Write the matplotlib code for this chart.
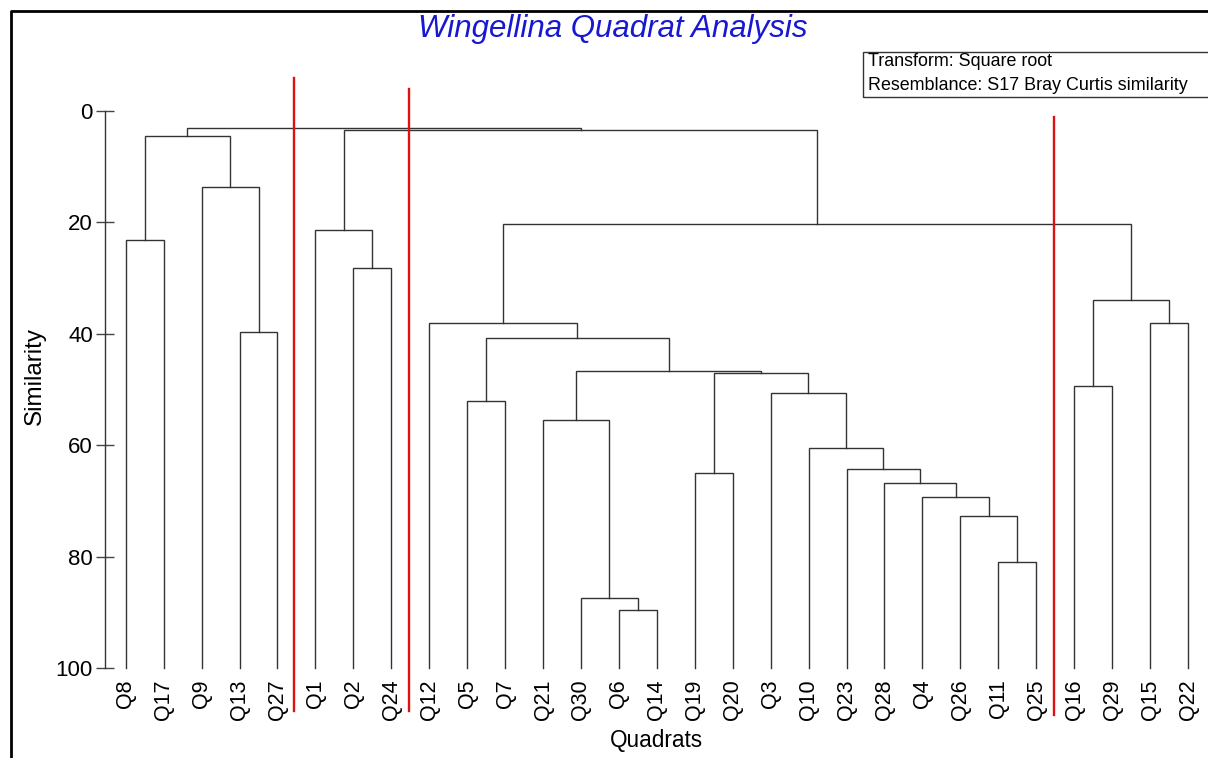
import matplotlib
matplotlib.use("Agg")
import matplotlib.pyplot as plt
from matplotlib.lines import Line2D
from matplotlib.patches import Rectangle

plt.rcParams['font.family'] = ['Liberation Sans', 'DejaVu Sans']

# ---- data ----
leaf_labels = ['Q8', 'Q17', 'Q9', 'Q13', 'Q27', 'Q1', 'Q2', 'Q24', 'Q12', 'Q5',
               'Q7', 'Q21', 'Q30', 'Q6', 'Q14', 'Q19', 'Q20', 'Q3', 'Q10', 'Q23',
               'Q28', 'Q4', 'Q26', 'Q11', 'Q25', 'Q16', 'Q29', 'Q15', 'Q22']

node_names = ['n1', 'n2', 'n3', 'n4', 'n5', 'n6', 'n7', 'n8', 'n9', 'n10',
              'n11', 'n12', 'n13', 'n14', 'n15', 'n16', 'n17', 'n18', 'n19', 'n20',
              'n21', 'n22', 'n23', 'n24', 'n25', 'n26', 'n27', 'n28']
node_left = ['Q8', 'Q13', 'Q9', 'n1', 'Q2', 'Q1', 'Q6', 'Q30', 'Q21', 'Q19',
             'Q11', 'Q26', 'Q4', 'Q28', 'Q23', 'Q10', 'Q3', 'n10', 'n9', 'Q5',
             'n20', 'Q12', 'Q16', 'Q15', 'n23', 'n22', 'n6', 'n4']
node_right = ['Q17', 'Q27', 'n2', 'n3', 'Q24', 'n5', 'Q14', 'n7', 'n8', 'Q20',
              'Q25', 'n11', 'n12', 'n13', 'n14', 'n15', 'n16', 'n17', 'n18', 'Q7',
              'n19', 'n21', 'Q29', 'Q22', 'n24', 'n25', 'n26', 'n27']
node_similarity = [23.1, 39.6, 13.6, 4.5, 28.2, 21.3, 89.6, 87.3, 55.4, 64.9,
                   80.9, 72.6, 69.2, 66.8, 64.2, 60.5, 50.6, 47.1, 46.6, 52.1,
                   40.8, 38.0, 49.3, 38.0, 34.0, 20.3, 3.4, 3.0]

# red cut lines: (position between leaves, top similarity, bottom similarity)
cut_x = [4.44, 7.46, 24.46]
cut_top = [-5.9, -4.0, 1.0]
cut_bottom = [107.7, 107.7, 108.4]

y_ticks = [0, 20, 40, 60, 80, 100]
leaf_similarity = 100.0

# ---- figure ----
W, H = 1208, 758
fig = plt.figure(figsize=(W / 100, H / 100), dpi=100)
ax = fig.add_axes([105 / W, 1 - 668.3 / H, (W - 105) / W, (668.3 - 111) / H])

pos = {lab: i for i, lab in enumerate(leaf_labels)}
hgt = {lab: leaf_similarity for lab in leaf_labels}
line_col = '#333333'
for name, l, r, s in zip(node_names, node_left, node_right, node_similarity):
    xl, xr = pos[l], pos[r]
    ax.plot([xl, xl, xr, xr], [hgt[l], s, s, hgt[r]], color=line_col, lw=1.0,
            solid_joinstyle='miter', clip_on=False)
    pos[name] = (xl + xr) / 2.0
    hgt[name] = s

for cx, ct, cb in zip(cut_x, cut_top, cut_bottom):
    ax.plot([cx, cx], [ct, cb], color='#dd1111', lw=1.7, clip_on=False, zorder=5)

ax.set_xlim(-0.546, 28.527)
ax.set_ylim(100, 0)
for sp in ['top', 'right', 'bottom']:
    ax.spines[sp].set_visible(False)
ax.spines['left'].set_color('#333333')
ax.spines['left'].set_linewidth(1.0)

ax.set_yticks(y_ticks)
ax.set_yticklabels([str(t) for t in y_ticks], fontsize=16)
ax.tick_params(axis='y', direction='inout', length=13.5, width=1.0, color='#444444', pad=2)
ax.set_xticks(range(len(leaf_labels)))
ax.set_xticklabels(leaf_labels, rotation=90, fontsize=15.5, va='top', ha='center')
ax.tick_params(axis='x', length=0, pad=8)
ax.patch.set_alpha(0)

fig.text(656 / W, 1 - 740 / H, 'Quadrats', fontsize=16.3, ha='center', va='center')
fig.text(35 / W, 1 - 376 / H, 'Similarity', fontsize=17.5, ha='center', va='center', rotation=90)
fig.text(613 / W, 1 - 29 / H, 'Wingellina Quadrat Analysis', fontsize=22.5, style='italic',
         color='#1818d0', ha='center', va='center')

# legend box
fig.patches.append(Rectangle((863 / W, 1 - 97.3 / H), (W + 5 - 863) / W, (97.3 - 51.7) / H,
                             transform=fig.transFigure, fill=False, edgecolor='#333333', lw=1.0))
fig.text(868 / W, 1 - 62 / H, 'Transform: Square root', fontsize=12.9, ha='left', va='center')
fig.text(868 / W, 1 - 85.5 / H, 'Resemblance: S17 Bray Curtis similarity', fontsize=12.9,
         ha='left', va='center')

# outer frame (cropped)
fig.lines.append(Line2D([11 / W, 11 / W, 1.0], [0.0, 1 - 11 / H, 1 - 11 / H],
                        transform=fig.transFigure, color='black', lw=2.0))

fig.savefig('out.png', dpi=100)
